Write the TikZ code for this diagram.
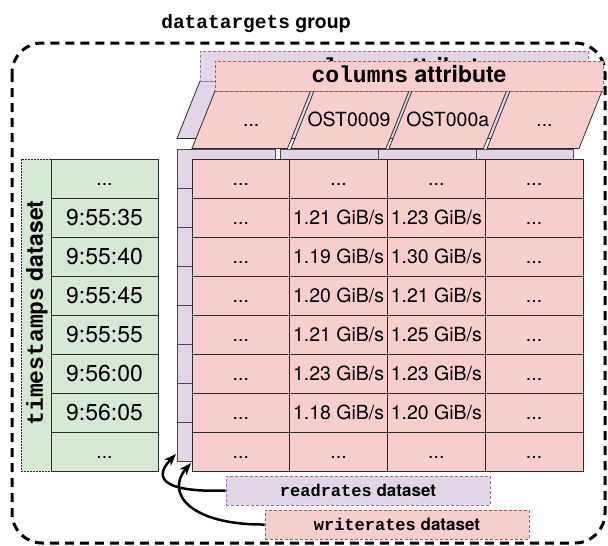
\documentclass[tikz,border=0pt]{standalone}
\usepackage{fontspec}
\setmainfont{TeX Gyre Heros}
\newfontfamily\monof{Liberation Mono}
\usetikzlibrary{arrows.meta}
\definecolor{pinkF}{HTML}{F8CECC}
\definecolor{pinkS}{HTML}{B85450}
\definecolor{purF}{HTML}{E1D5E7}
\definecolor{purS}{HTML}{9673A6}
\definecolor{grnF}{HTML}{D5E8D4}
\definecolor{cellS}{HTML}{2B2B2B}
\newcommand\mydots{\vphantom{0}...}
\begin{document}
\begin{tikzpicture}[x=1pt,y=-1pt,
  fa/.style={font=\fontsize{19.5}{23}\selectfont},
  fb/.style={font=\fontsize{23}{27}\selectfont},
  cellbase/.style={draw=cellS, line width=0.9pt, inner sep=0pt, minimum height=39pt},
  pinkcell/.style={cellbase, fill=pinkF, minimum width=97.75pt, fa},
  grncell/.style={cellbase, fill=grnF, minimum width=107pt, fb},
  purcell/.style={draw=cellS!85, line width=0.9pt, fill=purF},
  pinkpar/.style={draw=cellS, line width=0.8pt, fill=pinkF},
  purpar/.style={draw=cellS, line width=0.8pt, fill=purF},
  pinkbar/.style={draw=pinkS, fill=pinkF, line width=0.8pt, dash pattern=on 3pt off 2pt, minimum width=388pt, minimum height=30pt, inner sep=0pt},
  purbar/.style={draw=purS, fill=purF, line width=0.8pt, dash pattern=on 3pt off 2pt, minimum width=388pt, minimum height=30pt, inner sep=0pt},
  hdrtext/.style={anchor=base, fb, font=\fontsize{23}{27}\selectfont\bfseries},
  grouped/.style={line width=3pt, dash pattern=on 9pt off 6pt, rounded corners=30pt},
  lblbox/.style={line width=0.8pt, dash pattern=on 3pt off 2pt, minimum width=264pt, minimum height=29pt, inner sep=0pt, font=\fontsize{17}{20}\selectfont\bfseries},
  arr/.style={line width=2.5pt, -{Stealth[length=12pt,width=9pt,inset=3.5pt]}}
]
\useasboundingbox (0,0) rectangle (608,546);
% group border
\draw[grouped] (12,43) rectangle (605,543);
\node[anchor=base, font=\fontsize{19.5}{23}\selectfont\bfseries] (title) at (256,28) {{\monof datatargets} group};

% readrates (purple) layer
\begin{scope}[shift={(-15,-10)}]
  \foreach \bl/\br in {192/287.5, 291/386, 389/483.5, 487/579}
    \filldraw[purpar] (\bl,148.5) -- (\br,148.5) -- ({\br+23},91) -- ({\bl+23},91) -- cycle;
\end{scope}
\node[purbar] (purhdr) at (394,66) {};
\node[hdrtext] (purhdrtxt) at (394,74.5) {{\monof columns} attribute};
\foreach \xa/\xb in {177/275.5, 280/378, 378/476, 476/573}
  \foreach \r in {0,...,7}
    \filldraw[purcell] (\xa,{149+39*\r}) rectangle (\xb,{188+39*\r});

% writerates (pink) layer
\foreach \bl/\br in {192/287.5, 291/386, 389/483.5, 487/579}
  \filldraw[pinkpar] (\bl,148.5) -- (\br,148.5) -- ({\br+23},91) -- ({\bl+23},91) -- cycle;
\node[fa] (col0) at (251.25,119.75) {\mydots};
\node[fa] (col1) at (349,119.75) {OST0009};
\node[fa] (col2) at (447.75,119.75) {OST000a};
\node[fa] (col3) at (544.5,119.75) {\mydots};
\node[pinkbar] (pinkhdr) at (409,76) {};
\node[hdrtext] (pinkhdrtxt) at (409,82) {{\monof columns} attribute};

\foreach \r in {0,7}
  \foreach \c in {0,...,3}
    \node[pinkcell] (p\r\c) at ({240.875+97.75*\c},{178.5+39*\r}) {\mydots};
\foreach \r/\a/\b in {1/1.21/1.23, 2/1.19/1.30, 3/1.20/1.21, 4/1.21/1.25, 5/1.23/1.23, 6/1.18/1.20} {
  \node[pinkcell] (p\r0) at (240.875,{178.5+39*\r}) {\mydots};
  \node[pinkcell] (p\r1) at (338.625,{178.5+39*\r}) {\a~GiB/s};
  \node[pinkcell] (p\r2) at (436.375,{178.5+39*\r}) {\b~GiB/s};
  \node[pinkcell] (p\r3) at (534.125,{178.5+39*\r}) {\mydots};
}

% timestamps
\node[draw=cellS, line width=0.8pt, dash pattern=on 1.5pt off 1.5pt, fill=grnF, minimum width=30pt, minimum height=312pt, inner sep=0pt] (tsbox) at (36,315) {};
\node[rotate=90, font=\fontsize{23}{27}\selectfont\bfseries] (tslabel) at (37,313) {{\monof timestamps} dataset};
\foreach \r/\t in {1/9:55:35, 2/9:55:40, 3/9:55:45, 4/9:55:55, 5/9:56:00, 6/9:56:05}
  \node[grncell] (g\r) at (104.5,{178.5+39*\r}) {\t};
\node[grncell, fa] (g0) at (104.5,178.5) {\mydots};
\node[grncell, fa] (g7) at (104.5,451.5) {\mydots};

% dataset labels
\node[lblbox, draw=purS, fill=purF] (rr) at (358,490.5) {{\monof readrates} dataset};
\node[lblbox, draw=pinkS, fill=pinkF] (wr) at (397,524.5) {{\monof writerates} dataset};
\coordinate (purtip) at (176,454);
\coordinate (pinktip) at (191,463);
\draw[arr] (rr.west) .. controls (170,492.5) and (150,481) .. (purtip);
\draw[arr] (wr.west) .. controls (190,525) and (165,493) .. (pinktip);
\end{tikzpicture}
\end{document}
